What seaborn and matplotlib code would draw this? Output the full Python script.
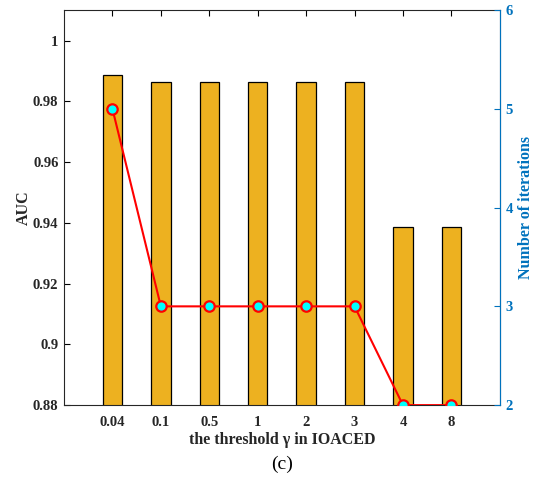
import numpy as np
import pandas as pd
import matplotlib
matplotlib.use("Agg")
import matplotlib.pyplot as plt
import seaborn as sns

categories = ["0.04", "0.1", "0.5", "1", "2", "3", "4", "8"]
auc = [0.9888, 0.9864, 0.9864, 0.9864, 0.9864, 0.9864, 0.9387, 0.9387]
iterations = [5, 3, 3, 3, 3, 3, 2, 2]
left_ticks = [0.88, 0.9, 0.92, 0.94, 0.96, 0.98, 1.0]
left_ticklabels = ["0.88", "0.9", "0.92", "0.94", "0.96", "0.98", "1"]
right_ticks = [2, 3, 4, 5, 6]

sns.set_theme(style="white")
plt.rcParams["font.family"] = ["Liberation Serif", "DejaVu Serif"]
plt.rcParams["font.weight"] = "bold"

df = pd.DataFrame({"gamma": categories, "auc": auc, "iters": iterations,
                   "pos": np.arange(len(categories))})

fig = plt.figure(figsize=(5.38, 4.8), dpi=100)
ax = fig.add_axes([0.119, 0.156, 0.81, 0.823])

sns.barplot(data=df, x="gamma", y="auc", ax=ax, color="#EDB120",
            edgecolor="black", linewidth=0.9, width=0.4, saturation=1,
            order=categories)
for p in ax.patches:
    p.set_facecolor("#EDB120")
    p.set_alpha(1)

ax.set_xlim(-1, len(categories))
ax.set_ylim(0.88, 1.0101)
ax.set_yticks(left_ticks)
ax.set_yticklabels(left_ticklabels)
ax.set_xlabel("the threshold γ in IOACED", fontsize=11.5, fontweight="bold", labelpad=2)
ax.set_ylabel("AUC", fontsize=11.5, fontweight="bold", labelpad=1)
ax.tick_params(axis="both", direction="in", length=4, width=0.8, labelsize=10.5,
               colors="black", top=True, right=True, pad=4)
ax.tick_params(axis="x", pad=8)
for lab in ax.get_xticklabels() + ax.get_yticklabels():
    lab.set_fontweight("bold")
    lab.set_color("#262626")
for s in ax.spines.values():
    s.set_color("#262626")
    s.set_linewidth(0.8)

ax2 = ax.twinx()
sns.lineplot(data=df, x="pos", y="iters", ax=ax2, color="red", linewidth=1.5,
             marker="o", markersize=7.5, markerfacecolor="#00FFFF",
             markeredgecolor="red", markeredgewidth=1.6, zorder=5)
ax2.set_ylim(2, 6)
ax2.set_yticks(right_ticks)
ax2.set_ylabel("Number of iterations", fontsize=11.5, fontweight="bold",
               color="#0072BD", labelpad=4)
ax2.tick_params(axis="y", direction="in", length=4, width=0.8, colors="#0072BD",
                labelsize=10.5, pad=4)
for lab in ax2.get_yticklabels():
    lab.set_fontweight("bold")
ax2.spines["right"].set_color("#0072BD")
ax2.spines["right"].set_linewidth(0.8)
for k in ["left", "top", "bottom"]:
    ax2.spines[k].set_visible(False)
ax2.set_xlim(-1, len(categories))
ax2.set_xlabel("")

fig.text(0.5 * (0.119 + 0.929), 0.033, "(c)", ha="center", va="center",
         fontsize=14, fontweight="normal", color="black")

fig.savefig("out.png", dpi=100)
